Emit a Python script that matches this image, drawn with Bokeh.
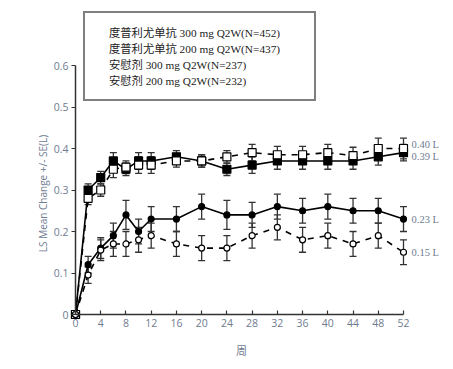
import math
from bokeh.plotting import figure
from bokeh.models import (ColumnDataSource, Whisker, TeeHead, FixedTicker, Legend,
                          LegendItem, LabelSet, Label, Range1d)
from bokeh.embed import file_html
from bokeh.resources import INLINE

# ---------------- data ----------------
weeks = [0, 2, 4, 6, 8, 10, 12, 16, 20, 24, 28, 32, 36, 40, 44, 48, 52]
dupi300 = [0, 0.30, 0.33, 0.37, 0.35, 0.37, 0.37, 0.38, 0.37, 0.35, 0.36, 0.37, 0.37, 0.37, 0.37, 0.38, 0.39]
dupi200 = [0, 0.28, 0.30, 0.35, 0.355, 0.36, 0.36, 0.37, 0.37, 0.38, 0.39, 0.385, 0.385, 0.39, 0.383, 0.40, 0.40]
plac300 = [0, 0.12, 0.16, 0.19, 0.24, 0.20, 0.23, 0.23, 0.26, 0.24, 0.24, 0.26, 0.25, 0.26, 0.25, 0.25, 0.23]
plac200 = [0, 0.095, 0.155, 0.17, 0.17, 0.18, 0.19, 0.17, 0.16, 0.16, 0.19, 0.21, 0.18, 0.19, 0.17, 0.19, 0.15]

se_d300 = [0, 0.015, 0.015, 0.02, 0.015, 0.02, 0.02, 0.015, 0.015, 0.015, 0.02, 0.02, 0.02, 0.02, 0.02, 0.02, 0.02]
se_d200 = [0, 0.015, 0.015, 0.02, 0.015, 0.02, 0.02, 0.015, 0.015, 0.015, 0.02, 0.02, 0.02, 0.02, 0.02, 0.025, 0.025]
se_p300 = [0, 0.02, 0.025, 0.03, 0.035, 0.03, 0.03, 0.03, 0.03, 0.035, 0.03, 0.03, 0.03, 0.03, 0.03, 0.03, 0.03]
se_p200 = [0, 0.02, 0.025, 0.03, 0.03, 0.03, 0.03, 0.03, 0.03, 0.03, 0.03, 0.03, 0.03, 0.03, 0.03, 0.03, 0.03]

series_names = ["度普利尤单抗 300 mg Q2W(N=452)",
                "度普利尤单抗 200 mg Q2W(N=437)",
                "安慰剂 300 mg Q2W(N=237)",
                "安慰剂 200 mg Q2W(N=232)"]

end_labels = ["0.39 L", "0.40 L", "0.23 L", "0.15 L"]
end_offsets = [-4, 4, 0, 0]

x_ticks = list(range(0, 53, 4))
y_ticks = [0.0, 0.1, 0.2, 0.3, 0.4, 0.5, 0.6]

x_label = "周"
y_label = "LS Mean Change +/- SE(L)"

# ---------------- figure ----------------
W, H = 453, 369
X0, X52 = 75, 403          # pixel positions of week 0 and week 52
Y0, PX_PER_UNIT_Y = 314, 415.0
px_x = (X52 - X0) / 52.0
x_start = -X0 / px_x
x_end = (W - X0) / px_x
y_end = Y0 / PX_PER_UNIT_Y
y_start = -(H - Y0) / PX_PER_UNIT_Y

tick_color = "#6f7b90"
p = figure(width=W, height=H, output_backend="svg", toolbar_location=None,
           x_range=Range1d(x_start, x_end), y_range=Range1d(y_start, y_end),
           min_border_left=0, min_border_right=0, min_border_top=0, min_border_bottom=0)
p.outline_line_color = None
p.xgrid.visible = False
p.ygrid.visible = False
p.background_fill_color = "white"

for ax in (p.xaxis[0], p.yaxis[0]):
    ax.fixed_location = 0
    ax.axis_line_color = "#333333"
    ax.axis_line_width = 1.5
    ax.major_tick_line_color = "#333333"
    ax.major_tick_line_width = 1.2
    ax.minor_tick_line_color = None
    ax.major_label_text_color = tick_color
    ax.major_label_text_font = "Open Sans"
    ax.major_label_text_font_size = "10.5px"

p.xaxis[0].major_tick_in = 4
p.xaxis[0].major_tick_out = 0
p.yaxis[0].major_tick_in = 0
p.yaxis[0].major_tick_out = 4
p.xaxis[0].ticker = FixedTicker(ticks=x_ticks)
p.yaxis[0].ticker = FixedTicker(ticks=y_ticks)
p.xaxis[0].bounds = (0, 52)
p.yaxis[0].bounds = (0, 0.6)
p.xaxis[0].major_label_standoff = 4
p.yaxis[0].major_label_standoff = 3

# axis titles (positioned in screen space)
p.add_layout(Label(x=241, y=H - 349, x_units="screen", y_units="screen", text=x_label,
                   text_align="center", text_baseline="middle", text_color=tick_color,
                   text_font="Noto Sans CJK SC", text_font_size="11px"))
p.add_layout(Label(x=42, y=H - 193, x_units="screen", y_units="screen", text=y_label,
                   angle=math.pi / 2, text_align="center", text_baseline="middle",
                   text_color=tick_color, text_font="Open Sans", text_font_size="10px"))

values = [dupi300, dupi200, plac300, plac200]
ses = [se_d300, se_d200, se_p300, se_p200]
dashes = ["solid", "dashed", "solid", "dashed"]
markers = ["square", "square", "circle", "circle"]
fills = ["black", "white", "black", "white"]
msizes = [8, 8, 6, 6]

sources = []
for vals, se in zip(values, ses):
    src = ColumnDataSource(dict(x=weeks, y=vals,
                                upper=[v + s for v, s in zip(vals, se)],
                                lower=[v - s for v, s in zip(vals, se)]))
    sources.append(src)

for src, dash in zip(sources, dashes):
    p.line("x", "y", source=src, line_color="black", line_width=1.6, line_dash=dash)

for src in sources:
    w = Whisker(source=src, base="x", upper="upper", lower="lower", dimension="height",
                line_color="#333333", line_width=1.3,
                upper_head=TeeHead(size=7, line_color="#333333", line_width=1.3),
                lower_head=TeeHead(size=7, line_color="#333333", line_width=1.3))
    p.add_layout(w)

for src, m, f, s in zip(sources, markers, fills, msizes):
    p.scatter("x", "y", source=src, marker=m, size=s, fill_color=f,
              line_color="black", line_width=1.2)

# end labels
end_src = ColumnDataSource(dict(x=[weeks[-1]] * 4, y=[v[-1] for v in values],
                                t=end_labels, yo=end_offsets))
labels = LabelSet(x="x", y="y", text="t", source=end_src, x_offset=8, y_offset="yo",
                  text_baseline="middle", text_font="Open Sans", text_font_size="10.5px",
                  text_color=tick_color)
p.add_layout(labels)

# legend (text only)
dummy = [p.line(x=[], y=[], line_alpha=0) for _ in series_names]
legend = Legend(items=[LegendItem(label=n, renderers=[r]) for n, r in zip(series_names, dummy)],
                location=(83, H - 101), glyph_width=13, glyph_height=15, label_height=15,
                label_width=194, label_standoff=0, spacing=-3, padding=11,
                label_text_font="'Liberation Serif', 'Noto Sans CJK SC'",
                label_text_font_size="11.3px", label_text_color="#222222",
                border_line_color="black", border_line_width=2,
                background_fill_color="white", background_fill_alpha=1)
p.add_layout(legend)

open("out.html", "w").write(file_html(p, INLINE))
